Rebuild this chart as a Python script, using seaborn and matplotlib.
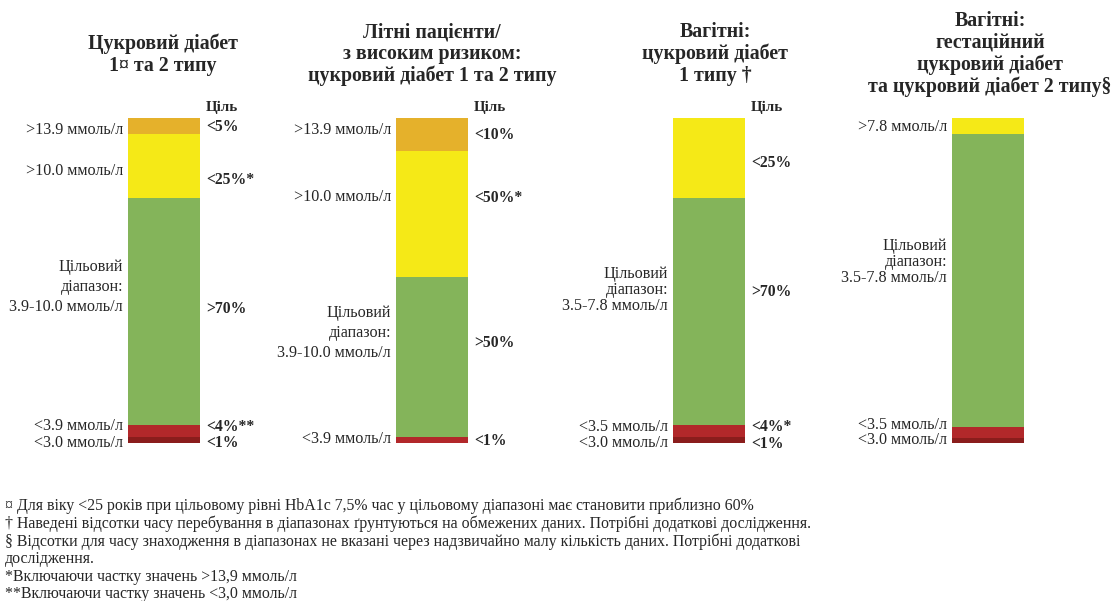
import numpy as np
import pandas as pd
import matplotlib
matplotlib.use("Agg")
import matplotlib.pyplot as plt
import seaborn as sns

# --- data (segment heights in % of bar, top -> bottom) ---
zones = ["above_13_9", "above_10_0", "target", "below_3_9", "below_3_0"]
zone_colors = ["#E5B12B", "#F5E917", "#84B45A", "#B2282A", "#8A1D1C"]

titles = [
    "Цукровий діабет\n1¤ та 2 типу",
    "Літні пацієнти/\nз високим ризиком:\nцукровий діабет 1 та 2 типу",
    "Вагітні:\nцукровий діабет\n1 типу †",
    "Вагітні:\nгестаційний\nцукровий діабет\nта цукровий діабет 2 типу§",
]
seg_t1_t2 = [5, 19.5, 70, 3.5, 2]
seg_older = [10, 39, 49, 2, 0]
seg_preg_t1 = [0, 24.5, 70, 3.5, 2]
seg_preg_gdm = [0, 5, 90, 3.5, 1.5]
segments = [seg_t1_t2, seg_older, seg_preg_t1, seg_preg_gdm]

left_t1_t2 = [">13.9 ммоль/л", ">10.0 ммоль/л", "Цільовий\nдіапазон:\n3.9-10.0 ммоль/л",
              "<3.9 ммоль/л", "<3.0 ммоль/л"]
left_older = [">13.9 ммоль/л", ">10.0 ммоль/л", "Цільовий\nдіапазон:\n3.9-10.0 ммоль/л",
              "<3.9 ммоль/л"]
left_preg_t1 = ["Цільовий\nдіапазон:\n3.5-7.8 ммоль/л", "<3.5 ммоль/л", "<3.0 ммоль/л"]
left_preg_gdm = [">7.8 ммоль/л", "Цільовий\nдіапазон:\n3.5-7.8 ммоль/л",
                 "<3.5 ммоль/л", "<3.0 ммоль/л"]

right_t1_t2 = ["<5%", "<25%*", ">70%", "<4%**", "<1%"]
right_older = ["<10%", "<50%*", ">50%", "<1%"]
right_preg_t1 = ["<25%", ">70%", "<4%*", "<1%"]
right_preg_gdm = []

goal_label = "Ціль"

footnotes = [
    "¤ Для віку <25 років при цільовому рівні HbA1c 7,5% час у цільовому діапазоні має становити приблизно 60%",
    "† Наведені відсотки часу перебування в діапазонах ґрунтуються на обмежених даних. Потрібні додаткові дослідження.",
    "§ Відсотки для часу знаходження в діапазонах не вказані через надзвичайно малу кількість даних. Потрібні додаткові",
    "дослідження.",
    "*Включаючи частку значень >13,9 ммоль/л",
    "**Включаючи частку значень <3,0 ммоль/л",
]

# --- layout (pixels of the 1118x601 canvas) ---
W, H = 1118, 601
bar_left = [128, 396, 673, 952]
bar_w = 72
bar_top, bar_bottom = 118, 443
title_x = [163, 432, 715, 990]
title_y = [55, 54, 54, 54]
left_y = [[130, 171, 287, 426, 443], [130, 197, 333, 439], [290, 427, 443], [127, 262, 425, 440]]
right_y = [[127, 180, 309, 427, 443], [135, 198, 343, 441], [163, 292, 427, 444], []]
target_spacing = [1.33, 1.33, 0.97, 0.97]

sns.set_style("white")
plt.rcParams["font.family"] = ["Liberation Serif", "DejaVu Serif"]

fig = plt.figure(figsize=(W / 100, H / 100), dpi=100)


def fx(px):
    return px / W


def fy(py):
    return 1 - py / H


left_labels = [left_t1_t2, left_older, left_preg_t1, left_preg_gdm]
right_labels = [right_t1_t2, right_older, right_preg_t1, right_preg_gdm]

for i in range(4):
    ax = fig.add_axes([fx(bar_left[i]), fy(bar_bottom), bar_w / W, (bar_bottom - bar_top) / H])
    df = pd.DataFrame({"zone": zones, "value": segments[i], "color": zone_colors})
    # cumulative tops, stacked from the bottom zone upwards
    df["top"] = df["value"][::-1].cumsum()[::-1]
    for _, row in df.iterrows():
        if row["value"] <= 0:
            continue
        sns.barplot(x=[0], y=[row["top"]], color=row["color"], width=1,
                    saturation=1, linewidth=0, ax=ax)
    ax.set_xlim(-0.5, 0.5)
    ax.set_ylim(0, df["value"].sum())
    ax.axis("off")

    fig.text(fx(title_x[i]), fy(title_y[i]), titles[i], ha="center", va="center",
             fontsize=14.3, fontweight="bold", linespacing=1.1)

    for lab, y in zip(left_labels[i], left_y[i]):
        fig.text(fx(bar_left[i] - 5), fy(y), lab, ha="right", va="center",
                 fontsize=11.6, multialignment="right",
                 linespacing=target_spacing[i] if "\n" in lab else 1.0)

    for lab, y in zip(right_labels[i], right_y[i]):
        fig.text(fx(bar_left[i] + bar_w + 6), fy(y), lab, ha="left", va="center",
                 fontsize=11.3, fontweight="bold")
    if right_labels[i]:
        fig.text(fx(bar_left[i] + bar_w + 6), fy(107), goal_label, ha="left",
                 va="center", fontsize=10.8, fontweight="bold")

for k, line in enumerate(footnotes):
    fig.text(fx(5), fy(506 + k * 17.7), line, ha="left", va="center", fontsize=11.45)

fig.savefig("out.png", dpi=100)
